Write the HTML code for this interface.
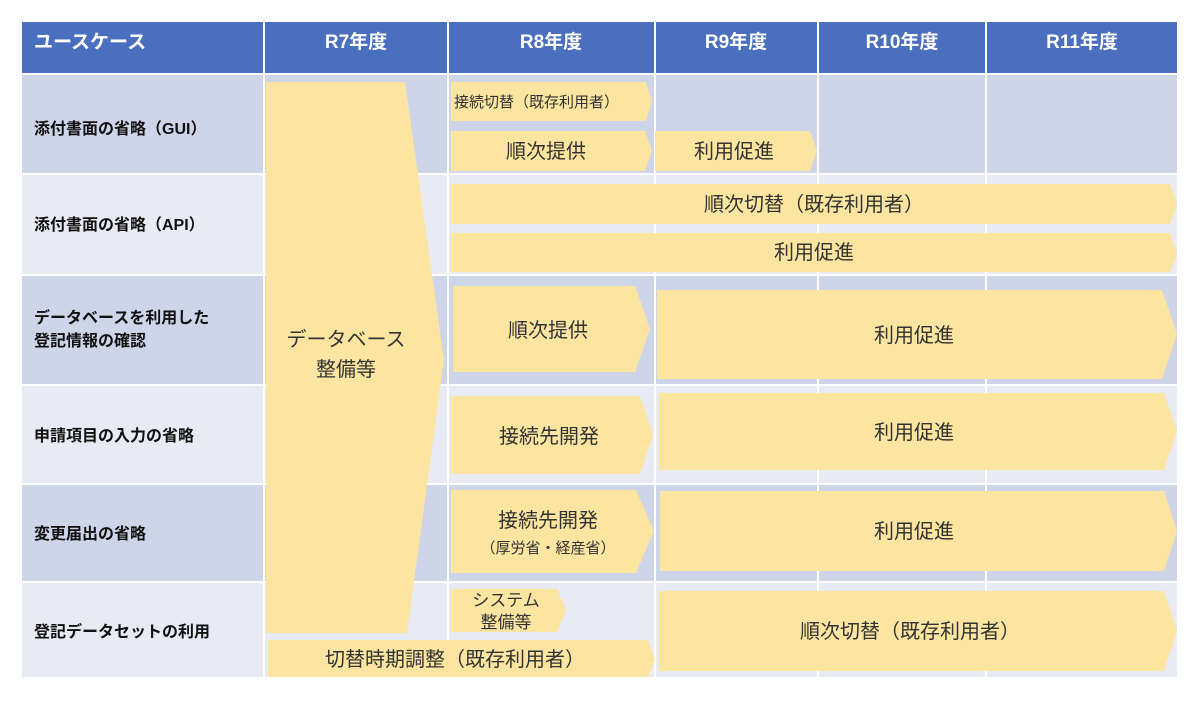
<!DOCTYPE html>
<html><head><meta charset="utf-8"><style>
body{margin:0;background:#fff;width:1200px;height:701px;overflow:hidden}
svg{display:block}
text{font-family:"Liberation Sans","Noto Sans CJK JP",sans-serif}
.h{fill:#fff;font-weight:bold;font-size:19px}
.r{fill:#111;font-weight:bold;font-size:16px}
.y{fill:#fbe5a0}
.t{fill:#333;font-size:20px;text-anchor:middle}
</style></head><body>
<svg width="1200" height="701" viewBox="0 0 1200 701">
<rect x="22" y="22" width="1155" height="51" fill="#4a6fbf"/>
<rect x="22" y="75" width="1155" height="98" fill="#cfd5e9"/>
<rect x="22" y="175" width="1155" height="99" fill="#e8eaf4"/>
<rect x="22" y="276" width="1155" height="108" fill="#cfd5e9"/>
<rect x="22" y="386" width="1155" height="97" fill="#e8eaf4"/>
<rect x="22" y="485" width="1155" height="96" fill="#cfd5e9"/>
<rect x="22" y="583" width="1155" height="94" fill="#e8eaf4"/>
<g stroke="#fff" stroke-width="2">
<line x1="264" y1="22" x2="264" y2="677"/><line x1="448" y1="22" x2="448" y2="677"/>
<line x1="655" y1="22" x2="655" y2="677"/><line x1="818" y1="22" x2="818" y2="677"/>
<line x1="986" y1="22" x2="986" y2="677"/>
</g>
<g class="h">
<text x="34" y="48">ユースケース</text>
<text x="356" y="48" text-anchor="middle">R7年度</text>
<text x="551" y="48" text-anchor="middle">R8年度</text>
<text x="736" y="48" text-anchor="middle">R9年度</text>
<text x="902" y="48" text-anchor="middle">R10年度</text>
<text x="1082" y="48" text-anchor="middle">R11年度</text>
</g>
<g class="r">
<text x="34" y="134">添付書面の省略（GUI）</text>
<text x="34" y="230">添付書面の省略（API）</text>
<text x="34" y="323">データベースを利用した</text>
<text x="34" y="346">登記情報の確認</text>
<text x="34" y="441">申請項目の入力の省略</text>
<text x="34" y="539">変更届出の省略</text>
<text x="34" y="637">登記データセットの利用</text>
</g>
<polygon class="y" points="266,82 405,82 444,360 407,633 266,633"/>
<text class="t" x="346" y="346">データベース</text>
<text class="t" x="346" y="376">整備等</text>
<polygon class="y" points="451,82 646,82 652,101 646,121 451,121"/>
<text x="454" y="107" style="fill:#333;font-size:15px">接続切替（既存利用者）</text>
<polygon class="y" points="451,131 645,131 652,151 645,171 451,171"/>
<text class="t" x="546" y="158">順次提供</text>
<polygon class="y" points="655,131 810,131 817,151 810,171 655,171"/>
<text class="t" x="734" y="158">利用促進</text>
<polygon class="y" points="451,184 1170,184 1177,204 1170,224 451,224"/>
<text class="t" x="814" y="211">順次切替（既存利用者）</text>
<polygon class="y" points="451,233 1170,233 1177,253 1170,272 451,272"/>
<text class="t" x="814" y="259">利用促進</text>
<polygon class="y" points="453,286 635,286 650,329 635,372 453,372"/>
<text class="t" x="548" y="337">順次提供</text>
<polygon class="y" points="657,290 1162,290 1177,334 1162,379 657,379"/>
<text class="t" x="914" y="342">利用促進</text>
<polygon class="y" points="451,396 640,396 653,435 640,474 451,474"/>
<text class="t" x="549" y="443">接続先開発</text>
<polygon class="y" points="659,393 1164,393 1177,431 1164,470 659,470"/>
<text class="t" x="914" y="439">利用促進</text>
<polygon class="y" points="451,490 636,490 654,531 636,573 451,573"/>
<text class="t" x="548" y="527">接続先開発</text>
<text x="548" y="553" style="fill:#333;font-size:15px;text-anchor:middle">（厚労省・経産省）</text>
<polygon class="y" points="660,491 1164,491 1177,531 1164,571 660,571"/>
<text class="t" x="914" y="538">利用促進</text>
<polygon class="y" points="451,589 557,589 566,610 557,632 451,632"/>
<text x="506" y="606" style="fill:#333;font-size:17px;text-anchor:middle">システム</text>
<text x="506" y="628" style="fill:#333;font-size:17px;text-anchor:middle">整備等</text>
<polygon class="y" points="268,640 648,640 655,659 648,677 268,677"/>
<text class="t" x="455" y="666">切替時期調整（既存利用者）</text>
<polygon class="y" points="659,591 1164,591 1177,631 1164,671 659,671"/>
<text class="t" x="910" y="638">順次切替（既存利用者）</text>
</svg>
</body></html>
